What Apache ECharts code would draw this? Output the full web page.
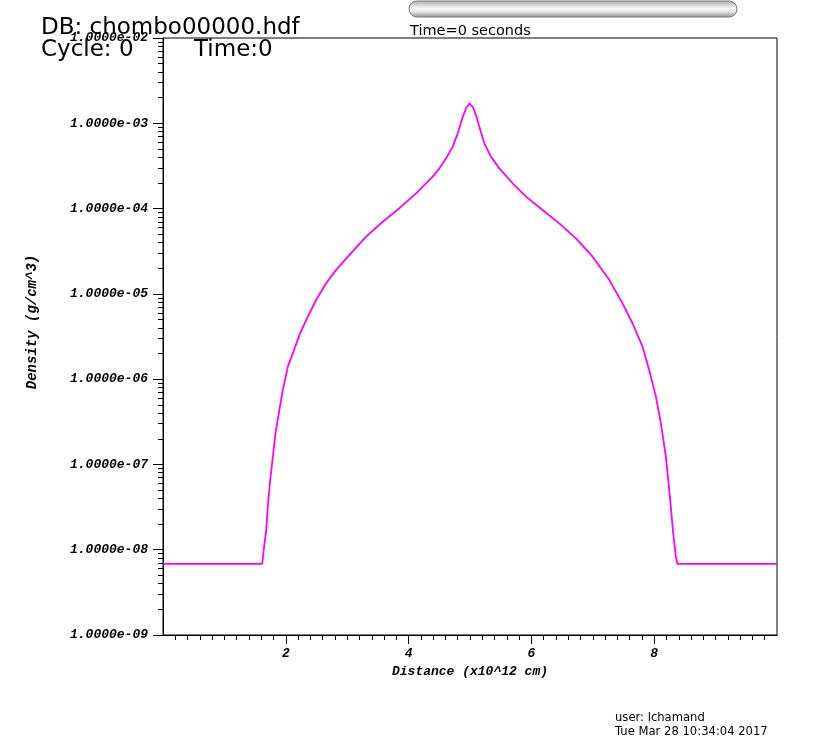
<!DOCTYPE html>
<html><head><meta charset="utf-8">
<script src="https://cdn.jsdelivr.net/npm/echarts@6/dist/echarts.min.js"></script>
<style>html,body{margin:0;padding:0;background:#fff}#c{width:820px;height:748px}</style>
</head><body><div id="c"></div>
<script>
// Distance (x10^12 cm)
const distance = [0, 1.615, 1.653, 1.681, 1.707, 1.746, 1.789, 1.832, 1.886, 1.951, 2.033, 2.114, 2.223, 2.358, 2.494, 2.657, 2.820, 3.037, 3.308, 3.579, 3.850, 4.122, 4.392, 4.502, 4.611, 4.719, 4.801, 4.882, 4.936, 4.990, 5.044, 5.098, 5.152, 5.233, 5.342, 5.478, 5.694, 5.912, 6.182, 6.454, 6.726, 6.996, 7.268, 7.484, 7.647, 7.810, 7.918, 8.028, 8.109, 8.190, 8.256, 8.309, 8.353, 8.379, 10];
// Density (g/cm^3)
const density = [6.81e-9, 6.81e-9, 1.19e-8, 1.70e-8, 3.20e-8, 6.58e-8, 1.23e-7, 2.32e-7, 3.97e-7, 7.46e-7, 1.40e-6, 2.01e-6, 3.30e-6, 5.40e-6, 8.47e-6, 1.33e-5, 1.91e-5, 2.86e-5, 4.68e-5, 7.01e-5, 1.01e-4, 1.51e-4, 2.37e-4, 2.96e-4, 3.89e-4, 5.32e-4, 7.62e-4, 1.19e-3, 1.50e-3, 1.71e-3, 1.56e-3, 1.25e-3, 9.12e-4, 5.82e-4, 4.06e-4, 2.96e-4, 1.98e-4, 1.38e-4, 9.62e-5, 6.71e-5, 4.48e-5, 2.73e-5, 1.46e-5, 7.74e-6, 4.52e-6, 2.40e-6, 1.28e-6, 6.24e-7, 3.03e-7, 1.23e-7, 4.19e-8, 1.56e-8, 8.28e-9, 6.81e-9, 6.81e-9];
// Y tick labels (decades)
const yDecades = [1e-9, 1e-8, 1e-7, 1e-6, 1e-5, 1e-4, 1e-3, 1e-2];
const yMinorMultipliers = [2, 3, 4, 5, 6, 7, 8, 9];
// X tick labels
const xMajorTicks = [2, 4, 6, 8];
const xMinorStep = 0.2;

const yMinorTicks = [];
for (let i = 0; i < yDecades.length - 1; i++) {
  yMinorMultipliers.forEach(m => yMinorTicks.push(+(m * yDecades[i]).toPrecision(6)));
}
const xMinorTicks = [];
for (let k = 1; k * xMinorStep < 10 - 1e-9; k++) {
  const v = +(k * xMinorStep).toFixed(2);
  if (xMajorTicks.indexOf(v) < 0) xMinorTicks.push(v);
}

const seriesData = distance.map((d, i) => [d, density[i]]);

const monoFont = {fontFamily: 'Liberation Mono', fontStyle: 'italic', fontWeight: 'bold', fontSize: 13, color: '#000'};
function fmtExp(v) {
  const e = Math.round(Math.log10(v));
  return '1.0000e' + (e < 0 ? '-' : '+') + String(Math.abs(e)).padStart(2, '0');
}

const chart = echarts.init(document.getElementById('c'), null, {renderer: 'canvas'});
chart.setOption({
  animation: false,
  backgroundColor: '#fff',
  grid: {left: 163, right: 43, top: 38, bottom: 113, show: true, borderColor: '#000', borderWidth: 1, containLabel: false, outerBoundsMode: 'none'},
  xAxis: [{
    type: 'value', min: 0, max: 10, interval: 2,
    name: 'Distance (x10^12 cm)', nameLocation: 'middle', nameGap: 28,
    nameTextStyle: monoFont,
    axisLine: {show: true, lineStyle: {color: '#000', width: 1}},
    axisTick: {show: true, customValues: xMajorTicks, length: 9, lineStyle: {color: '#000'}},
    axisLabel: {customValues: xMajorTicks, margin: 12, ...monoFont},
    splitLine: {show: false}
  }, {
    type: 'value', min: 0, max: 10, position: 'bottom', gridIndex: 0,
    axisLine: {show: false},
    axisTick: {show: true, customValues: xMinorTicks, length: 5, lineStyle: {color: '#000'}},
    axisLabel: {show: false},
    splitLine: {show: false}
  }],
  yAxis: [{
    type: 'log', logBase: 10, min: 1e-9, max: 1e-2,
    axisLine: {show: true, lineStyle: {color: '#000', width: 1}},
    axisTick: {show: true, customValues: yDecades, length: 10, lineStyle: {color: '#000'}},
    axisLabel: {customValues: yDecades, margin: 15, formatter: fmtExp, ...monoFont},
    splitLine: {show: false}
  }, {
    type: 'log', logBase: 10, min: 1e-9, max: 1e-2, position: 'left',
    axisLine: {show: false},
    axisTick: {show: true, customValues: yMinorTicks, length: 5, lineStyle: {color: '#000'}},
    axisLabel: {show: false},
    splitLine: {show: false}
  }],
  graphic: [
    {type: 'rect', shape: {x: 409, y: 1, width: 328, height: 16, r: 8},
     style: {fill: new echarts.graphic.LinearGradient(0, 0, 0, 1, [
       {offset: 0, color: '#a8a8a8'}, {offset: 0.45, color: '#f6f6f6'}, {offset: 0.6, color: '#f0f0f0'}, {offset: 1, color: '#909090'}]),
       stroke: '#7a7a7a', lineWidth: 1}},
    {type: 'text', x: 41, y: 28, style: {text: 'DB: chombo00000.hdf', fontFamily: 'DejaVu Sans', fontSize: 23, fill: '#000', verticalAlign: 'middle'}},
    {type: 'text', x: 41, y: 50, style: {text: 'Cycle: 0', fontFamily: 'DejaVu Sans', fontSize: 23, fill: '#000', verticalAlign: 'middle'}},
    {type: 'text', x: 194, y: 50, style: {text: 'Time:0', fontFamily: 'DejaVu Sans', fontSize: 23, fill: '#000', verticalAlign: 'middle'}},
    {type: 'text', x: 410, y: 31, style: {text: 'Time=0 seconds', fontFamily: 'DejaVu Sans', fontSize: 14.5, fill: '#000', verticalAlign: 'middle'}},
    {type: 'text', x: 32, y: 322, rotation: Math.PI / 2, style: {text: 'Density (g/cm^3)', fontFamily: 'Liberation Mono', fontStyle: 'italic', fontWeight: 'bold', fontSize: 14, fill: '#000', align: 'center', verticalAlign: 'middle'}},
    {type: 'text', x: 615, y: 718, style: {text: 'user: lchamand', fontFamily: 'DejaVu Sans', fontSize: 11.6, fill: '#000', verticalAlign: 'middle'}},
    {type: 'text', x: 615, y: 732, style: {text: 'Tue Mar 28 10:34:04 2017', fontFamily: 'DejaVu Sans', fontSize: 11.6, fill: '#000', verticalAlign: 'middle'}}
  ],
  series: [{
    type: 'line', xAxisIndex: 0, yAxisIndex: 0,
    data: seriesData, showSymbol: false, symbol: 'none',
    smooth: false,
    lineStyle: {color: '#ff00ff', width: 1.8},
    clip: true
  }]
});
</script>
</body></html>
